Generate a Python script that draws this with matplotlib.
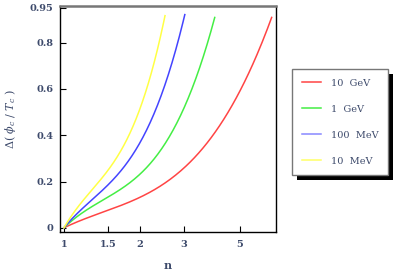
import numpy as np
import matplotlib
matplotlib.use("Agg")
import matplotlib.pyplot as plt
from matplotlib.patches import Rectangle
from matplotlib.lines import Line2D

labels = ["10  GeV", "1  GeV", "100  MeV", "10  MeV"]
colors = ["#ff4444", "#44ee44", "#4444ff", "#ffff44"]
legend_colors = ["#ff4444", "#44ee44", "#8888ff", "#ffff66"]

red_n = [1.0, 1.39, 1.88, 2.56, 3.46, 4.84, 5.72, 6.37, 6.68]
red_y = [0.0, 0.056, 0.108, 0.207, 0.35, 0.553, 0.695, 0.842, 0.937]
green_n = [1.0, 1.39, 1.88, 2.56, 3.11, 3.52, 3.85, 3.97]
green_y = [0.0, 0.104, 0.207, 0.393, 0.553, 0.695, 0.842, 0.935]
blue_n = [1.0, 1.39, 1.88, 2.19, 2.40, 2.67, 2.91, 3.02]
blue_y = [0.0, 0.147, 0.324, 0.454, 0.553, 0.695, 0.842, 0.932]
yellow_n = [1.0, 1.28, 1.62, 1.88, 2.06, 2.26, 2.44, 2.52]
yellow_y = [0.0, 0.156, 0.307, 0.436, 0.553, 0.695, 0.842, 0.92]

series = [(red_n, red_y), (green_n, green_y), (blue_n, blue_y), (yellow_n, yellow_y)]

xticks = [1, 1.5, 2, 3, 5]
xticklabels = ["1", "1.5", "2", "3", "5"]
yticks = [0, 0.2, 0.4, 0.6, 0.8, 0.95]
yticklabels = ["0", "0.2", "0.4", "0.6", "0.8", "0.95"]

plt.rcParams['mathtext.fontset'] = 'dejavuserif'
tcol = "#3d4a6b"

fig = plt.figure(figsize=(4.01, 2.79), dpi=100)
ax = fig.add_axes([60/401, 1-232/279, 216/401, 226/279])

for (xs, ys), c in zip(series, colors):
    lx = np.log(xs)
    ya = np.array(ys)
    A = np.vstack([lx, lx**2, lx**3]).T
    coef, *_ = np.linalg.lstsq(A, ya, rcond=None)
    t = np.linspace(lx[0], lx[-1], 200)
    yy = coef[0]*t + coef[1]*t**2 + coef[2]*t**3
    ax.plot(np.exp(t), yy, color=c, lw=1.1)

ax.set_xscale('log')
ax.set_xlim(0.965, 6.95)
ax.set_ylim(-0.018, 0.958)
ax.set_xticks(xticks)
ax.set_xticklabels(xticklabels)
ax.xaxis.set_minor_locator(matplotlib.ticker.NullLocator())
ax.set_yticks(yticks)
ax.set_yticklabels(yticklabels)

for lab in ax.get_xticklabels() + ax.get_yticklabels():
    lab.set_family('DejaVu Serif')
    lab.set_fontsize(7)
    lab.set_fontweight('bold')
    lab.set_color(tcol)
ax.tick_params(direction='in', length=4, width=0.8, pad=5)
ax.tick_params(axis='x', pad=6)

for s in ['left', 'bottom', 'right']:
    ax.spines[s].set_linewidth(1.0)
    ax.spines[s].set_color('black')
ax.spines['top'].set_color('#777777')
ax.spines['top'].set_linewidth(1.8)

ax.set_xlabel('n', family='DejaVu Serif', fontsize=8, fontweight='bold', color=tcol, labelpad=8)
ax.set_ylabel(r'$\Delta(\ \phi_c\ /\ T_c\ )$', fontsize=8, color=tcol, labelpad=8)

hl = [Line2D([], [], color=c, lw=1.1) for c in legend_colors]
leg = fig.legend(hl, labels, loc='upper left', bbox_to_anchor=(292/401, 1-69/279),
                 prop={'family': 'DejaVu Serif', 'size': 7}, frameon=True, fancybox=False,
                 handlelength=2.0, handletextpad=1.0, labelspacing=1.75,
                 borderpad=1.0, borderaxespad=0, framealpha=1)
leg.get_frame().set_edgecolor('#777777')
leg.get_frame().set_facecolor('white')
leg.get_frame().set_linewidth(1.0)
for t in leg.get_texts():
    t.set_color(tcol)

fig.canvas.draw()
bb = leg.get_window_extent()
off = 5
fig.patches.append(Rectangle((bb.x0 + off, bb.y0 - off), bb.width, bb.height,
                             transform=None, facecolor='black', edgecolor='none', zorder=1))

fig.savefig('out.png', dpi=100)
